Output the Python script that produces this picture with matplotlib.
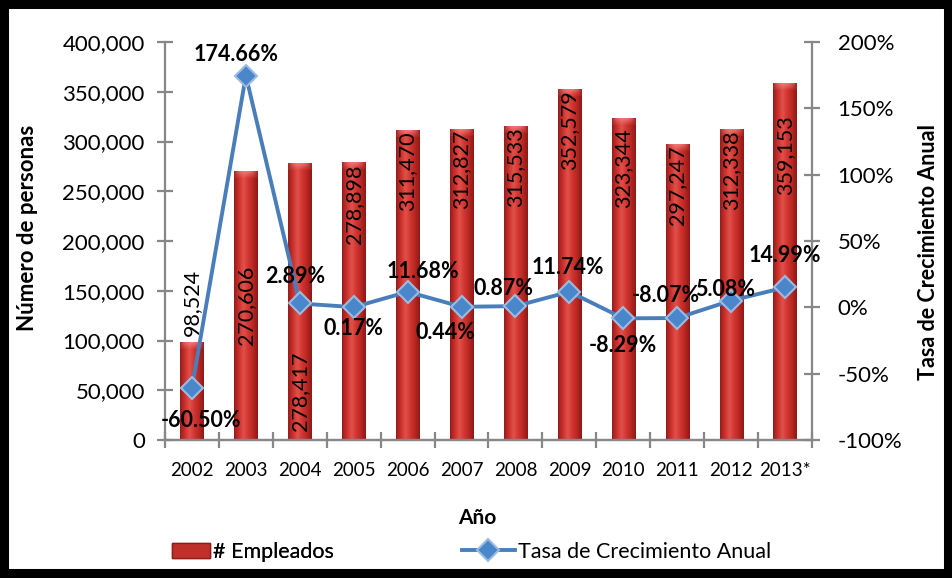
import matplotlib
import matplotlib.pyplot as plt
import numpy as np
from matplotlib.patches import Patch, Rectangle
from matplotlib.lines import Line2D

matplotlib.use('Agg')

plt.rcParams['font.family'] = ['Lato', 'DejaVu Sans']

years = ['2002', '2003', '2004', '2005', '2006', '2007', '2008', '2009', '2010', '2011', '2012', '2013*']
empleados = [98524, 270606, 278417, 278898, 311470, 312827, 315533, 352579, 323344, 297247, 312338, 359153]
tasa = [-60.50, 174.66, 2.89, 0.17, 11.68, 0.44, 0.87, 11.74, -8.29, -8.07, 5.08, 14.99]

# where each bar's number sits: (anchor, pixels down from the anchor)
bar_label_pos = [('out', 0), ('mid', 0), ('base', 0), ('top', 2), ('top', 1), ('top', 1),
                 ('top', 1), ('top', 1), ('top', 10), ('top', 1), ('top', 1), ('top', 33)]
# label offset from each marker, pixels (dx, dy)
rate_label_off = [(9, -33), (-10, 21), (-5, 27), (0, -21), (15, 20), (-16, -26),
                  (-12, 18), (-2, 24), (0, -27), (-11, 23), (-6, 11), (0, 32)]

W, H = 953, 578
fig = plt.figure(figsize=(W / 100, H / 100), dpi=100)
ax = fig.add_axes([165 / W, 1 - 440 / H, 647 / W, 398 / H])
ax2 = ax.twinx()

x = np.arange(len(years))
bar_w = 0.43
bars = ax.bar(x, empleados, width=bar_w, color='none', edgecolor='none', zorder=2)

# cylinder-like shading for the bars
stops = np.array([[0.58, 0.11, 0.10], [0.80, 0.19, 0.17], [0.88, 0.32, 0.29],
                  [0.82, 0.21, 0.19], [0.72, 0.15, 0.13], [0.55, 0.10, 0.09]])
t = np.linspace(0, 1, 64)
pos = np.linspace(0, 1, len(stops))
grad = np.stack([np.interp(t, pos, stops[:, k]) for k in range(3)], axis=-1)[None, :, :]
cap_h = 7 * 400000 / 398
for b in bars:
    x0, w, h = b.get_x(), b.get_width(), b.get_height()
    im = ax.imshow(grad, extent=[x0, x0 + w, 0, h], aspect='auto', zorder=2,
                   interpolation='bicubic')
    im.set_clip_path(b)
    cap = np.zeros((8, 64, 4))
    cap[..., :3] = [0.95, 0.50, 0.50]
    cap[..., 3] = np.linspace(0.75, 0.0, 8)[:, None] * (1 - (2 * t - 1) ** 2)[None, :] + 0.1
    ax.imshow(cap, extent=[x0, x0 + w, h - cap_h, h], aspect='auto', zorder=2.1)

ax.set_xlim(-0.5, len(years) - 0.5)
ax.set_ylim(0, 400000)
ax.set_yticks(np.arange(0, 400001, 50000))
ax.set_yticklabels([f'{v:,}' for v in range(0, 400001, 50000)])

px = 400000 / 398
fs_bar = 15.5
for i, (v, (mode, off)) in enumerate(zip(empleados, bar_label_pos)):
    txt = f'{v:,}'
    if mode == 'out':
        ax.text(i, v + 6 * px, txt, rotation=90, ha='center', va='bottom', fontsize=fs_bar, zorder=3)
    elif mode == 'mid':
        ax.text(i, v / 2, txt, rotation=90, ha='center', va='center', fontsize=fs_bar, zorder=3)
    elif mode == 'base':
        ax.text(i, 9 * px, txt, rotation=90, ha='center', va='bottom', fontsize=fs_bar, zorder=3)
    else:
        ax.text(i, v - off * px, txt, rotation=90, ha='center', va='top', fontsize=fs_bar, zorder=3)

line_kw = dict(color='#4A7EBB', lw=2.8, marker='D', markersize=11.5,
               markerfacecolor='#4A86CA', markeredgecolor='#9DBBE0', markeredgewidth=1.5)
ax2.plot(x, tasa, zorder=4, **line_kw)
ax2.set_ylim(-100, 200)
ax2.set_yticks(np.arange(-100, 201, 50))
ax2.set_yticklabels([f'{v}%' for v in range(-100, 201, 50)])
for i, (v, (dx, dy)) in enumerate(zip(tasa, rate_label_off)):
    ax2.annotate(f'{v:.2f}%', (i, v), xytext=(dx, dy), textcoords='offset pixels',
                 ha='center', va='center', fontsize=15.5, fontweight='bold', zorder=5)

grey = '#878787'
for a in (ax, ax2):
    a.spines['top'].set_visible(False)
    for s in a.spines.values():
        s.set_color(grey)
        s.set_linewidth(1.6)
ax2.spines['left'].set_visible(False)
ax.spines['right'].set_visible(False)

ax.set_xticks(x)
ax.set_xticklabels(years, fontsize=13.5)
ax.set_xticks(np.arange(-0.5, len(years), 1), minor=True)
ax.tick_params(axis='x', which='major', length=0, pad=16)
ax.tick_params(axis='x', which='minor', direction='inout', length=11, width=1.6, color=grey)
ax.tick_params(axis='y', direction='inout', length=11, width=1.6, color=grey, labelsize=16, pad=9)
ax2.tick_params(axis='y', direction='inout', length=11, width=1.6, color=grey, labelsize=16, pad=13)

fig.text(28 / W, 1 - 228 / H, 'Número de personas', rotation=90, ha='center', va='center',
         fontsize=16, fontweight='bold')
fig.text(929 / W, 1 - 252 / H, 'Tasa de Crecimiento Anual', rotation=90, ha='center', va='center',
         fontsize=15.5, fontweight='bold')
fig.text(477 / W, 1 - 518 / H, 'Año', ha='center', va='center', fontsize=15, fontweight='bold')

fs_leg = 15.5
leg_kw = dict(loc='center left', frameon=False, fontsize=fs_leg, borderpad=0,
              borderaxespad=0, handletextpad=0.15)
leg1 = fig.legend([Patch(facecolor='#C0302A', edgecolor='#8E1C18')], ['# Empleados'],
                  bbox_to_anchor=(172 / W, 1 - 552 / H), handlelength=1.75, **leg_kw)
fig.add_artist(leg1)
fig.legend([Line2D([], [], **line_kw)], ['Tasa de Crecimiento Anual'],
           bbox_to_anchor=(462 / W, 1 - 552 / H), handlelength=2.45, **leg_kw)

fig.patches.append(Rectangle((0, 0), 1, 1, transform=fig.transFigure, fill=False,
                             edgecolor='black', linewidth=13, zorder=10))

fig.savefig('out.png', dpi=100)
